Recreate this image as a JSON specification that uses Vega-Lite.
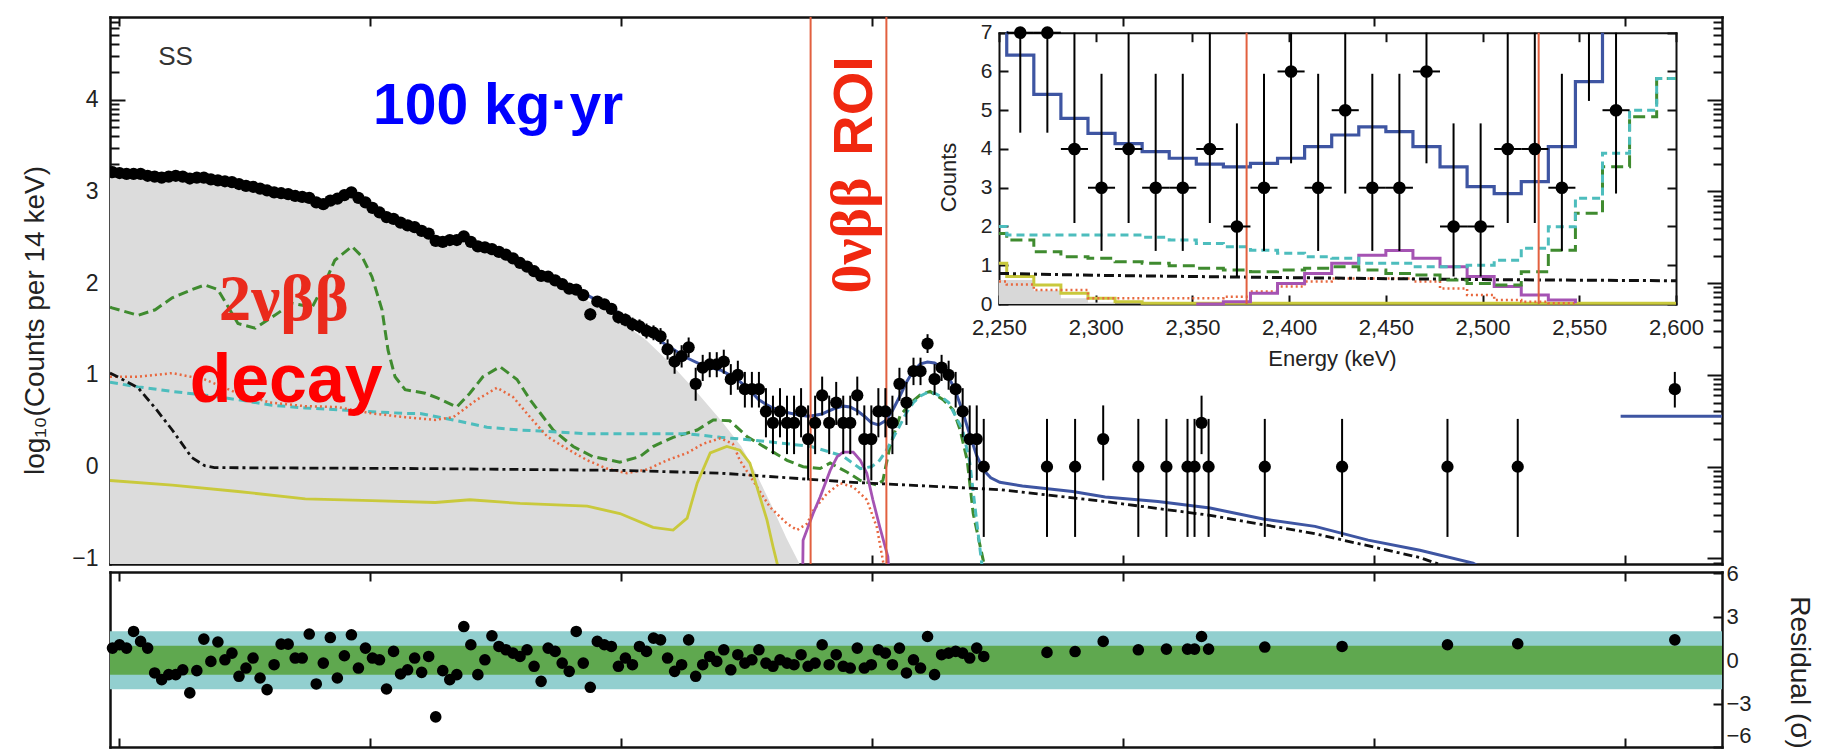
{
"$schema":"https://vega.github.io/schema/vega-lite/v6.json",
"width":1612,"height":547,
"autosize":{"type":"none"},
"padding":{"left":110,"top":17,"right":102,"bottom":192},
"background":"#ffffff",
"config":{"view":{"stroke":null},"font":"Liberation Sans",
 "axis":{"grid":false,"domainColor":"#111","tickColor":"#111","labelColor":"#222","titleColor":"#222","labelFont":"Liberation Sans","titleFont":"Liberation Sans","titleFontWeight":"normal","labelFlush":false,"labelOverlap":false,"domainCap":"square","domainWidth":2.5,"tickWidth":2}},
"datasets":{
"pts":[
{"e":987,"v":3.21,"r":0.84},{"e":1001,"v":3.2,"r":1.07},{"e":1015,"v":3.19,"r":0.84},{"e":1029,"v":3.19,"r":1.99},{"e":1043,"v":3.19,"r":1.3},{"e":1057,"v":3.17,"r":0.84},{"e":1071,"v":3.16,"r":-0.88},{"e":1085,"v":3.15,"r":-1.34},{"e":1099,"v":3.16,"r":-1.0},{"e":1113,"v":3.17,"r":-1.0},{"e":1127,"v":3.16,"r":-0.66},{"e":1141,"v":3.14,"r":-2.26},{"e":1155,"v":3.15,"r":-0.72},{"e":1169,"v":3.15,"r":1.46},{"e":1183,"v":3.13,"r":-0.08},{"e":1197,"v":3.12,"r":1.26},{"e":1211,"v":3.11,"r":0.03},{"e":1225,"v":3.1,"r":0.49},{"e":1239,"v":3.08,"r":-1.11},{"e":1253,"v":3.06,"r":-0.54},{"e":1267,"v":3.05,"r":0.15},{"e":1281,"v":3.03,"r":-1.23},{"e":1295,"v":3.01,"r":-2.03},{"e":1309,"v":2.99,"r":-0.31},{"e":1323,"v":2.98,"r":1.11},{"e":1337,"v":2.97,"r":1.11},{"e":1351,"v":2.95,"r":0.15},{"e":1365,"v":2.94,"r":0.15},{"e":1379,"v":2.93,"r":1.81},{"e":1393,"v":2.88,"r":-1.64},{"e":1407,"v":2.86,"r":-0.2},{"e":1421,"v":2.9,"r":1.57},{"e":1435,"v":2.92,"r":-1.23},{"e":1449,"v":2.96,"r":0.31},{"e":1463,"v":2.99,"r":1.76},{"e":1477,"v":2.93,"r":-0.54},{"e":1491,"v":2.88,"r":0.84},{"e":1505,"v":2.82,"r":0.15},{"e":1519,"v":2.77,"r":0.03},{"e":1533,"v":2.72,"r":-1.99},{"e":1547,"v":2.7,"r":0.61},{"e":1561,"v":2.66,"r":-0.95},{"e":1575,"v":2.63,"r":-0.66},{"e":1589,"v":2.61,"r":0.15},{"e":1603,"v":2.57,"r":-0.84},{"e":1617,"v":2.54,"r":0.26},{"e":1631,"v":2.46,"r":-3.92},{"e":1645,"v":2.45,"r":-0.72},{"e":1659,"v":2.47,"r":-1.34},{"e":1673,"v":2.47,"r":-1.0},{"e":1687,"v":2.51,"r":2.33},{"e":1701,"v":2.45,"r":1.07},{"e":1715,"v":2.4,"r":-1.0},{"e":1729,"v":2.39,"r":0.03},{"e":1743,"v":2.37,"r":1.69},{"e":1757,"v":2.34,"r":0.95},{"e":1771,"v":2.31,"r":0.72},{"e":1785,"v":2.27,"r":0.49},{"e":1799,"v":2.22,"r":0.26},{"e":1813,"v":2.18,"r":0.72},{"e":1827,"v":2.13,"r":-0.42},{"e":1841,"v":2.08,"r":-1.46},{"e":1855,"v":2.07,"r":0.84},{"e":1869,"v":2.03,"r":0.61},{"e":1883,"v":1.99,"r":-0.2},{"e":1897,"v":1.94,"r":-0.77},{"e":1911,"v":1.93,"r":1.99},{"e":1925,"v":1.87,"r":-0.2},
{"e":1939,"v":1.66,"r":-1.87,"lo":1.595,"hi":1.725},{"e":1953,"v":1.8,"r":1.3,"lo":1.745,"hi":1.853},{"e":1967,"v":1.77,"r":1.07,"lo":1.712,"hi":1.828},{"e":1981,"v":1.72,"r":0.95,"lo":1.66,"hi":1.78},{"e":1995,"v":1.63,"r":-0.42,"lo":1.56,"hi":1.7},{"e":2009,"v":1.6,"r":0.15,"lo":1.53,"hi":1.67},{"e":2023,"v":1.55,"r":-0.31,"lo":1.476,"hi":1.625},{"e":2037,"v":1.53,"r":0.95,"lo":1.455,"hi":1.605},{"e":2051,"v":1.48,"r":0.61,"lo":1.397,"hi":1.56},{"e":2065,"v":1.46,"r":1.53,"lo":1.378,"hi":1.54},{"e":2079,"v":1.42,"r":1.41,"lo":1.335,"hi":1.51},{"e":2093,"v":1.279,"r":0.15,"lo":1.167,"hi":1.388},{"e":2107,"v":1.146,"r":-0.77,"lo":1.013,"hi":1.275},{"e":2121,"v":1.204,"r":-0.31,"lo":1.081,"hi":1.324},{"e":2135,"v":1.301,"r":1.41,"lo":1.192,"hi":1.408},{"e":2149,"v":0.903,"r":-1.11,"lo":0.719,"hi":1.078},{"e":2163,"v":1.079,"r":-0.31,"lo":0.934,"hi":1.219},{"e":2177,"v":1.114,"r":0.26,"lo":0.975,"hi":1.248},{"e":2191,"v":1.114,"r":-0.08,"lo":0.975,"hi":1.248},{"e":2205,"v":1.146,"r":0.72,"lo":1.013,"hi":1.275},{"e":2219,"v":0.954,"r":-0.66,"lo":0.783,"hi":1.118},{"e":2233,"v":1.0,"r":0.38,"lo":0.839,"hi":1.155},{"e":2247,"v":0.845,"r":-0.2,"lo":0.645,"hi":1.033},{"e":2261,"v":0.845,"r":0.03,"lo":0.645,"hi":1.033},{"e":2275,"v":0.845,"r":0.72,"lo":0.645,"hi":1.033},{"e":2289,"v":0.602,"r":-0.2,"lo":0.32,"hi":0.856},{"e":2303,"v":0.477,"r":-0.42,"lo":0.137,"hi":0.774},{"e":2317,"v":0.602,"r":0.03,"lo":0.32,"hi":0.856},{"e":2331,"v":0.477,"r":-0.2,"lo":0.137,"hi":0.774},{"e":2345,"v":0.477,"r":-0.31,"lo":0.137,"hi":0.774},{"e":2359,"v":0.602,"r":0.38,"lo":0.32,"hi":0.856},{"e":2373,"v":0.301,"r":-0.42,"lo":-0.149,"hi":0.668},{"e":2387,"v":0.477,"r":-0.2,"lo":0.137,"hi":0.774},{"e":2401,"v":0.778,"r":1.07,"lo":0.56,"hi":0.982},{"e":2415,"v":0.477,"r":-0.31,"lo":0.137,"hi":0.774},{"e":2429,"v":0.699,"r":0.38,"lo":0.455,"hi":0.924},{"e":2443,"v":0.477,"r":-0.42,"lo":0.137,"hi":0.774},{"e":2457,"v":0.477,"r":-0.54,"lo":0.137,"hi":0.774},{"e":2471,"v":0.778,"r":0.84,"lo":0.56,"hi":0.982},{"e":2485,"v":0.301,"r":-0.54,"lo":-0.149,"hi":0.668},{"e":2499,"v":0.301,"r":-0.31,"lo":-0.149,"hi":0.668},{"e":2513,"v":0.602,"r":0.72,"lo":0.32,"hi":0.856},{"e":2527,"v":0.602,"r":0.49,"lo":0.32,"hi":0.856},{"e":2541,"v":0.477,"r":-0.31,"lo":0.137,"hi":0.774},{"e":2555,"v":0.903,"r":0.84,"lo":0.719,"hi":1.078},{"e":2569,"v":0.699,"r":-0.88,"lo":0.455,"hi":0.924},{"e":2583,"v":1.041,"r":0.03,"lo":0.889,"hi":1.188},{"e":2597,"v":1.041,"r":-0.54,"lo":0.889,"hi":1.188},{"e":2611,"v":1.342,"r":1.64,"lo":1.239,"hi":1.444},{"e":2625,"v":0.954,"r":-1.0,"lo":0.783,"hi":1.118},{"e":2639,"v":1.079,"r":0.38,"lo":0.934,"hi":1.219},{"e":2653,"v":1.0,"r":0.49,"lo":0.839,"hi":1.155},{"e":2667,"v":0.845,"r":0.61,"lo":0.645,"hi":1.033},{"e":2681,"v":0.602,"r":0.49,"lo":0.32,"hi":0.856},{"e":2695,"v":0.301,"r":0.15,"lo":-0.149,"hi":0.668},{"e":2709,"v":0.301,"r":0.84,"lo":-0.149,"hi":0.668},{"e":2723,"v":0,"r":0.26,"lo":-0.765,"hi":0.521},
{"e":2849,"v":0,"r":0.54,"lo":-0.765,"hi":0.521},{"e":2905,"v":0,"r":0.6,"lo":-0.765,"hi":0.521},{"e":2961,"v":0.301,"r":1.3,"lo":-0.149,"hi":0.668},{"e":3031,"v":0,"r":0.72,"lo":-0.765,"hi":0.521},{"e":3087,"v":0,"r":0.77,"lo":-0.765,"hi":0.521},{"e":3129,"v":0,"r":0.77,"lo":-0.765,"hi":0.521},{"e":3143,"v":0,"r":0.77,"lo":-0.765,"hi":0.521},{"e":3157,"v":0.477,"r":1.64,"lo":0.137,"hi":0.774},{"e":3171,"v":0,"r":0.77,"lo":-0.765,"hi":0.521},{"e":3283,"v":0,"r":0.91,"lo":-0.765,"hi":0.521},{"e":3437,"v":0,"r":0.95,"lo":-0.765,"hi":0.521},{"e":3647,"v":0,"r":1.07,"lo":-0.765,"hi":0.521},{"e":3787,"v":0,"r":1.14,"lo":-0.765,"hi":0.521},{"e":4100,"v":0.845,"r":1.41,"lo":0.645,"hi":1.033}
],
"curves":[
{"c":"gray","e":982,"v":3.19},{"c":"gray","e":1000,"v":3.18},{"c":"gray","e":1050,"v":3.15},{"c":"gray","e":1100,"v":3.13},{"c":"gray","e":1150,"v":3.12},{"c":"gray","e":1200,"v":3.1},{"c":"gray","e":1250,"v":3.04},{"c":"gray","e":1300,"v":2.98},{"c":"gray","e":1350,"v":2.93},{"c":"gray","e":1400,"v":2.85},{"c":"gray","e":1430,"v":2.89},{"c":"gray","e":1460,"v":2.96},{"c":"gray","e":1490,"v":2.86},{"c":"gray","e":1530,"v":2.7},{"c":"gray","e":1560,"v":2.63},{"c":"gray","e":1600,"v":2.55},{"c":"gray","e":1640,"v":2.43},{"c":"gray","e":1680,"v":2.45},{"c":"gray","e":1720,"v":2.37},{"c":"gray","e":1760,"v":2.3},{"c":"gray","e":1800,"v":2.19},{"c":"gray","e":1850,"v":2.04},{"c":"gray","e":1900,"v":1.91},{"c":"gray","e":1950,"v":1.76},{"c":"gray","e":2000,"v":1.58},{"c":"gray","e":2050,"v":1.38},{"c":"gray","e":2100,"v":1.12},{"c":"gray","e":2150,"v":0.82},{"c":"gray","e":2200,"v":0.5},{"c":"gray","e":2240,"v":0.22},{"c":"gray","e":2270,"v":-0.08},{"c":"gray","e":2300,"v":-0.42},{"c":"gray","e":2330,"v":-0.78},{"c":"gray","e":2356,"v":-1.06},
{"c":"green","e":982,"v":1.74},{"c":"green","e":986,"v":1.73},{"c":"green","e":1038,"v":1.65},{"c":"green","e":1072,"v":1.71},{"c":"green","e":1106,"v":1.84},{"c":"green","e":1145,"v":1.93},{"c":"green","e":1171,"v":1.98},{"c":"green","e":1197,"v":1.93},{"c":"green","e":1237,"v":1.56},{"c":"green","e":1271,"v":1.51},{"c":"green","e":1305,"v":1.63},{"c":"green","e":1345,"v":1.78},{"c":"green","e":1385,"v":1.74},{"c":"green","e":1410,"v":2.0},{"c":"green","e":1430,"v":2.25},{"c":"green","e":1464,"v":2.4},{"c":"green","e":1484,"v":2.29},{"c":"green","e":1504,"v":2.07},{"c":"green","e":1524,"v":1.71},{"c":"green","e":1536,"v":1.27},{"c":"green","e":1550,"v":0.98},{"c":"green","e":1570,"v":0.84},{"c":"green","e":1610,"v":0.8},{"c":"green","e":1634,"v":0.75},{"c":"green","e":1673,"v":0.65},{"c":"green","e":1699,"v":0.8},{"c":"green","e":1725,"v":0.98},{"c":"green","e":1759,"v":1.09},{"c":"green","e":1793,"v":0.95},{"c":"green","e":1819,"v":0.73},{"c":"green","e":1865,"v":0.4},{"c":"green","e":1905,"v":0.22},{"c":"green","e":1944,"v":0.11},{"c":"green","e":1998,"v":0.05},{"c":"green","e":2038,"v":0.11},{"c":"green","e":2064,"v":0.22},{"c":"green","e":2104,"v":0.32},{"c":"green","e":2152,"v":0.4},{"c":"green","e":2184,"v":0.51},{"c":"green","e":2217,"v":0.5},{"c":"green","e":2251,"v":0.33},{"c":"green","e":2297,"v":0.18},{"c":"green","e":2331,"v":0.07},{"c":"green","e":2363,"v":0.0},{"c":"green","e":2397,"v":-0.02},{"c":"green","e":2417,"v":0.04},{"c":"green","e":2451,"v":-0.06},{"c":"green","e":2477,"v":-0.15},{"c":"green","e":2510,"v":-0.2},{"c":"green","e":2522,"v":-0.15},{"c":"green","e":2536,"v":0.22},{"c":"green","e":2556,"v":0.55},{"c":"green","e":2576,"v":0.69},{"c":"green","e":2596,"v":0.78},{"c":"green","e":2616,"v":0.82},{"c":"green","e":2642,"v":0.73},{"c":"green","e":2662,"v":0.62},{"c":"green","e":2676,"v":0.4},{"c":"green","e":2690,"v":0.07},{"c":"green","e":2702,"v":-0.51},{"c":"green","e":2716,"v":-0.87},{"c":"green","e":2722,"v":-1.02},{"c":"green","e":2728,"v":-1.3},
{"c":"cyan","e":982,"v":0.92},{"c":"cyan","e":1038,"v":0.87},{"c":"cyan","e":1106,"v":0.82},{"c":"cyan","e":1171,"v":0.78},{"c":"cyan","e":1237,"v":0.73},{"c":"cyan","e":1305,"v":0.67},{"c":"cyan","e":1371,"v":0.64},{"c":"cyan","e":1436,"v":0.62},{"c":"cyan","e":1504,"v":0.6},{"c":"cyan","e":1570,"v":0.58},{"c":"cyan","e":1600,"v":0.58},{"c":"cyan","e":1666,"v":0.51},{"c":"cyan","e":1733,"v":0.43},{"c":"cyan","e":1799,"v":0.4},{"c":"cyan","e":1865,"v":0.38},{"c":"cyan","e":1933,"v":0.36},{"c":"cyan","e":1998,"v":0.36},{"c":"cyan","e":2064,"v":0.36},{"c":"cyan","e":2132,"v":0.36},{"c":"cyan","e":2198,"v":0.32},{"c":"cyan","e":2263,"v":0.29},{"c":"cyan","e":2331,"v":0.25},{"c":"cyan","e":2379,"v":0.22},{"c":"cyan","e":2441,"v":0.12},{"c":"cyan","e":2477,"v":-0.02},{"c":"cyan","e":2499,"v":0.0},{"c":"cyan","e":2513,"v":0.05},{"c":"cyan","e":2527,"v":0.16},{"c":"cyan","e":2541,"v":0.3},{"c":"cyan","e":2555,"v":0.44},{"c":"cyan","e":2569,"v":0.59},{"c":"cyan","e":2583,"v":0.7},{"c":"cyan","e":2597,"v":0.77},{"c":"cyan","e":2611,"v":0.81},{"c":"cyan","e":2625,"v":0.8},{"c":"cyan","e":2639,"v":0.76},{"c":"cyan","e":2653,"v":0.7},{"c":"cyan","e":2667,"v":0.55},{"c":"cyan","e":2681,"v":0.4},{"c":"cyan","e":2695,"v":0.05},{"c":"cyan","e":2709,"v":-0.6},{"c":"cyan","e":2720,"v":-1.1},{"c":"cyan","e":2724,"v":-1.3},
{"c":"red","e":982,"v":0.98},{"c":"red","e":1038,"v":0.98},{"c":"red","e":1106,"v":1.02},{"c":"red","e":1171,"v":0.95},{"c":"red","e":1237,"v":0.8},{"c":"red","e":1300,"v":0.7},{"c":"red","e":1370,"v":0.66},{"c":"red","e":1436,"v":0.65},{"c":"red","e":1504,"v":0.58},{"c":"red","e":1570,"v":0.54},{"c":"red","e":1630,"v":0.51},{"c":"red","e":1666,"v":0.54},{"c":"red","e":1713,"v":0.73},{"c":"red","e":1753,"v":0.86},{"c":"red","e":1785,"v":0.76},{"c":"red","e":1819,"v":0.54},{"c":"red","e":1853,"v":0.33},{"c":"red","e":1885,"v":0.22},{"c":"red","e":1933,"v":0.07},{"c":"red","e":1972,"v":-0.02},{"c":"red","e":2012,"v":-0.07},{"c":"red","e":2052,"v":-0.03},{"c":"red","e":2092,"v":0.07},{"c":"red","e":2132,"v":0.15},{"c":"red","e":2164,"v":0.25},{"c":"red","e":2198,"v":0.31},{"c":"red","e":2223,"v":0.25},{"c":"red","e":2237,"v":0.07},{"c":"red","e":2263,"v":-0.15},{"c":"red","e":2297,"v":-0.44},{"c":"red","e":2331,"v":-0.62},{"c":"red","e":2351,"v":-0.69},{"c":"red","e":2371,"v":-0.62},{"c":"red","e":2383,"v":-0.48},{"c":"red","e":2411,"v":-0.29},{"c":"red","e":2437,"v":-0.18},{"c":"red","e":2463,"v":-0.22},{"c":"red","e":2490,"v":-0.36},{"c":"red","e":2510,"v":-0.66},{"c":"red","e":2522,"v":-1.02},{"c":"red","e":2530,"v":-1.3},
{"c":"dd","e":982,"v":1.02},{"c":"dd","e":990,"v":1.0},{"c":"dd","e":1038,"v":0.86},{"c":"dd","e":1072,"v":0.64},{"c":"dd","e":1106,"v":0.4},{"c":"dd","e":1145,"v":0.1},{"c":"dd","e":1171,"v":0.01},{"c":"dd","e":1190,"v":-0.01},{"c":"dd","e":1600,"v":-0.02},{"c":"dd","e":2000,"v":-0.04},{"c":"dd","e":2198,"v":-0.07},{"c":"dd","e":2463,"v":-0.17},{"c":"dd","e":2755,"v":-0.25},{"c":"dd","e":2965,"v":-0.38},{"c":"dd","e":3174,"v":-0.53},{"c":"dd","e":3383,"v":-0.73},{"c":"dd","e":3592,"v":-0.99},{"c":"dd","e":3650,"v":-1.1},
{"c":"yellow","e":982,"v":-0.15},{"c":"yellow","e":1106,"v":-0.2},{"c":"yellow","e":1237,"v":-0.27},{"c":"yellow","e":1371,"v":-0.35},{"c":"yellow","e":1504,"v":-0.37},{"c":"yellow","e":1630,"v":-0.39},{"c":"yellow","e":1699,"v":-0.36},{"c":"yellow","e":1799,"v":-0.4},{"c":"yellow","e":1933,"v":-0.43},{"c":"yellow","e":1998,"v":-0.51},{"c":"yellow","e":2064,"v":-0.66},{"c":"yellow","e":2104,"v":-0.69},{"c":"yellow","e":2132,"v":-0.56},{"c":"yellow","e":2152,"v":-0.18},{"c":"yellow","e":2178,"v":0.15},{"c":"yellow","e":2211,"v":0.22},{"c":"yellow","e":2237,"v":0.18},{"c":"yellow","e":2257,"v":0.04},{"c":"yellow","e":2271,"v":-0.22},{"c":"yellow","e":2291,"v":-0.58},{"c":"yellow","e":2303,"v":-0.87},{"c":"yellow","e":2313,"v":-1.09},{"c":"yellow","e":2318,"v":-1.2},
{"c":"mag","e":2362,"v":-1.3},{"c":"mag","e":2363,"v":-0.8},{"c":"mag","e":2383,"v":-0.51},{"c":"mag","e":2397,"v":-0.33},{"c":"mag","e":2417,"v":-0.04},{"c":"mag","e":2431,"v":0.11},{"c":"mag","e":2443,"v":0.16},{"c":"mag","e":2463,"v":0.16},{"c":"mag","e":2477,"v":0.07},{"c":"mag","e":2490,"v":-0.07},{"c":"mag","e":2502,"v":-0.36},{"c":"mag","e":2516,"v":-0.66},{"c":"mag","e":2532,"v":-0.98},{"c":"mag","e":2536,"v":-1.3},
{"c":"blue","e":1800,"v":2.22},{"c":"blue","e":1850,"v":2.08},{"c":"blue","e":1900,"v":1.96},{"c":"blue","e":1950,"v":1.82},{"c":"blue","e":2000,"v":1.66},{"c":"blue","e":2050,"v":1.47},{"c":"blue","e":2090,"v":1.33},{"c":"blue","e":2130,"v":1.19},{"c":"blue","e":2165,"v":1.1},{"c":"blue","e":2200,"v":1.05},{"c":"blue","e":2230,"v":0.96},{"c":"blue","e":2247,"v":0.88},{"c":"blue","e":2261,"v":0.81},{"c":"blue","e":2275,"v":0.73},{"c":"blue","e":2289,"v":0.68},{"c":"blue","e":2303,"v":0.64},{"c":"blue","e":2317,"v":0.62},{"c":"blue","e":2331,"v":0.59},{"c":"blue","e":2345,"v":0.575},{"c":"blue","e":2359,"v":0.56},{"c":"blue","e":2373,"v":0.55},{"c":"blue","e":2387,"v":0.56},{"c":"blue","e":2401,"v":0.575},{"c":"blue","e":2415,"v":0.61},{"c":"blue","e":2429,"v":0.64},{"c":"blue","e":2443,"v":0.66},{"c":"blue","e":2457,"v":0.65},{"c":"blue","e":2471,"v":0.61},{"c":"blue","e":2485,"v":0.55},{"c":"blue","e":2499,"v":0.48},{"c":"blue","e":2513,"v":0.455},{"c":"blue","e":2527,"v":0.5},{"c":"blue","e":2541,"v":0.61},{"c":"blue","e":2555,"v":0.76},{"c":"blue","e":2569,"v":0.92},{"c":"blue","e":2583,"v":1.05},{"c":"blue","e":2597,"v":1.12},{"c":"blue","e":2611,"v":1.14},{"c":"blue","e":2625,"v":1.13},{"c":"blue","e":2639,"v":1.08},{"c":"blue","e":2653,"v":0.98},{"c":"blue","e":2667,"v":0.82},{"c":"blue","e":2681,"v":0.6},{"c":"blue","e":2695,"v":0.35},{"c":"blue","e":2709,"v":0.12},{"c":"blue","e":2723,"v":-0.04},{"c":"blue","e":2737,"v":-0.12},{"c":"blue","e":2755,"v":-0.17},{"c":"blue","e":2800,"v":-0.21},{"c":"blue","e":2900,"v":-0.27},{"c":"blue","e":2965,"v":-0.33},{"c":"blue","e":3070,"v":-0.38},{"c":"blue","e":3174,"v":-0.45},{"c":"blue","e":3280,"v":-0.57},{"c":"blue","e":3383,"v":-0.65},{"c":"blue","e":3489,"v":-0.8},{"c":"blue","e":3592,"v":-0.91},{"c":"blue","e":3698,"v":-1.05},{"c":"blue","e":3720,"v":-1.12},
{"c":"blue2","e":3992,"v":0.55},{"c":"blue2","e":4194,"v":0.55}
],
"inset":[
{"c":"gray","e":2250,"v":0.62},{"c":"gray","e":2268,"v":0.35},{"c":"gray","e":2282,"v":0.15},{"c":"gray","e":2296,"v":0.04},{"c":"gray","e":2310,"v":0},
{"c":"yellow","e":2250,"v":1.05},{"c":"yellow","e":2254,"v":0.71},{"c":"yellow","e":2268,"v":0.49},{"c":"yellow","e":2282,"v":0.28},{"c":"yellow","e":2296,"v":0.15},{"c":"yellow","e":2310,"v":0.06},{"c":"yellow","e":2324,"v":0.02},{"c":"yellow","e":2600,"v":0.02},
{"c":"red","e":2250,"v":0.58},{"c":"red","e":2254,"v":0.5},{"c":"red","e":2268,"v":0.36},{"c":"red","e":2296,"v":0.15},{"c":"red","e":2366,"v":0.19},{"c":"red","e":2380,"v":0.32},{"c":"red","e":2394,"v":0.45},{"c":"red","e":2408,"v":0.58},{"c":"red","e":2422,"v":0.66},{"c":"red","e":2464,"v":0.58},{"c":"red","e":2478,"v":0.4},{"c":"red","e":2492,"v":0.23},{"c":"red","e":2506,"v":0.1},{"c":"red","e":2520,"v":0.06},{"c":"red","e":2534,"v":0.02},{"c":"red","e":2548,"v":0.02},
{"c":"mag","e":2352,"v":0.0},{"c":"mag","e":2366,"v":0.06},{"c":"mag","e":2380,"v":0.28},{"c":"mag","e":2394,"v":0.53},{"c":"mag","e":2408,"v":0.79},{"c":"mag","e":2422,"v":1.05},{"c":"mag","e":2436,"v":1.26},{"c":"mag","e":2450,"v":1.38},{"c":"mag","e":2464,"v":1.18},{"c":"mag","e":2478,"v":0.96},{"c":"mag","e":2492,"v":0.71},{"c":"mag","e":2506,"v":0.45},{"c":"mag","e":2520,"v":0.23},{"c":"mag","e":2534,"v":0.1},{"c":"mag","e":2548,"v":0.02},
{"c":"dd","e":2250,"v":0.79},{"c":"dd","e":2300,"v":0.74},{"c":"dd","e":2400,"v":0.68},{"c":"dd","e":2500,"v":0.63},{"c":"dd","e":2600,"v":0.6},
{"c":"green","e":2250,"v":1.82},{"c":"green","e":2254,"v":1.65},{"c":"green","e":2268,"v":1.35},{"c":"green","e":2282,"v":1.22},{"c":"green","e":2296,"v":1.18},{"c":"green","e":2310,"v":1.09},{"c":"green","e":2324,"v":1.05},{"c":"green","e":2338,"v":0.99},{"c":"green","e":2352,"v":0.92},{"c":"green","e":2366,"v":0.88},{"c":"green","e":2380,"v":0.83},{"c":"green","e":2394,"v":0.88},{"c":"green","e":2408,"v":0.92},{"c":"green","e":2422,"v":0.96},{"c":"green","e":2436,"v":0.88},{"c":"green","e":2450,"v":0.79},{"c":"green","e":2464,"v":0.75},{"c":"green","e":2478,"v":0.62},{"c":"green","e":2492,"v":0.53},{"c":"green","e":2506,"v":0.49},{"c":"green","e":2520,"v":0.83},{"c":"green","e":2534,"v":1.39},{"c":"green","e":2548,"v":2.34},{"c":"green","e":2562,"v":3.54},{"c":"green","e":2576,"v":4.83},{"c":"green","e":2590,"v":5.82},{"c":"green","e":2600,"v":5.82},
{"c":"cyan","e":2250,"v":2.0},{"c":"cyan","e":2254,"v":1.78},{"c":"cyan","e":2324,"v":1.72},{"c":"cyan","e":2338,"v":1.65},{"c":"cyan","e":2352,"v":1.56},{"c":"cyan","e":2366,"v":1.48},{"c":"cyan","e":2380,"v":1.39},{"c":"cyan","e":2394,"v":1.31},{"c":"cyan","e":2408,"v":1.22},{"c":"cyan","e":2422,"v":1.18},{"c":"cyan","e":2436,"v":1.05},{"c":"cyan","e":2464,"v":0.96},{"c":"cyan","e":2492,"v":1.0},{"c":"cyan","e":2506,"v":1.13},{"c":"cyan","e":2520,"v":1.44},{"c":"cyan","e":2534,"v":1.99},{"c":"cyan","e":2548,"v":2.73},{"c":"cyan","e":2562,"v":3.89},{"c":"cyan","e":2576,"v":5.0},{"c":"cyan","e":2590,"v":5.82},{"c":"cyan","e":2600,"v":5.82},
{"c":"blue","e":2253.9,"v":7},{"c":"blue","e":2254,"v":6.42},{"c":"blue","e":2268,"v":5.41},{"c":"blue","e":2282,"v":4.79},{"c":"blue","e":2296,"v":4.4},{"c":"blue","e":2310,"v":4.14},{"c":"blue","e":2324,"v":3.93},{"c":"blue","e":2338,"v":3.76},{"c":"blue","e":2352,"v":3.61},{"c":"blue","e":2366,"v":3.54},{"c":"blue","e":2380,"v":3.63},{"c":"blue","e":2394,"v":3.76},{"c":"blue","e":2408,"v":4.06},{"c":"blue","e":2422,"v":4.36},{"c":"blue","e":2436,"v":4.57},{"c":"blue","e":2450,"v":4.45},{"c":"blue","e":2464,"v":4.06},{"c":"blue","e":2478,"v":3.54},{"c":"blue","e":2492,"v":3.03},{"c":"blue","e":2506,"v":2.85},{"c":"blue","e":2520,"v":3.16},{"c":"blue","e":2534,"v":4.06},{"c":"blue","e":2548,"v":5.74},{"c":"blue","e":2562,"v":7}
],
"ipts":[
{"e":2261,"n":7,"lo":4.42,"hi":7,"el":2254,"eh":2268},{"e":2275,"n":7,"lo":4.42,"hi":7,"el":2268,"eh":2282},{"e":2289,"n":4,"lo":2.09,"hi":7,"el":2282,"eh":2296},{"e":2303,"n":3,"lo":1.37,"hi":5.94,"el":2296,"eh":2310},{"e":2317,"n":4,"lo":2.09,"hi":7,"el":2310,"eh":2324},{"e":2331,"n":3,"lo":1.37,"hi":5.94,"el":2324,"eh":2338},{"e":2345,"n":3,"lo":1.37,"hi":5.94,"el":2338,"eh":2352},{"e":2359,"n":4,"lo":2.09,"hi":7,"el":2352,"eh":2366},{"e":2373,"n":2,"lo":0.71,"hi":4.66,"el":2366,"eh":2380},{"e":2387,"n":3,"lo":1.37,"hi":5.94,"el":2380,"eh":2394},{"e":2401,"n":6,"lo":3.63,"hi":7,"el":2394,"eh":2408},{"e":2415,"n":3,"lo":1.37,"hi":5.94,"el":2408,"eh":2422},{"e":2429,"n":5,"lo":2.85,"hi":7,"el":2422,"eh":2436},{"e":2443,"n":3,"lo":1.37,"hi":5.94,"el":2436,"eh":2450},{"e":2457,"n":3,"lo":1.37,"hi":5.94,"el":2450,"eh":2464},{"e":2471,"n":6,"lo":3.63,"hi":7,"el":2464,"eh":2478},{"e":2485,"n":2,"lo":0.71,"hi":4.66,"el":2478,"eh":2492},{"e":2499,"n":2,"lo":0.71,"hi":4.66,"el":2492,"eh":2506},{"e":2513,"n":4,"lo":2.09,"hi":7,"el":2506,"eh":2520},{"e":2527,"n":4,"lo":2.09,"hi":7,"el":2520,"eh":2534},{"e":2541,"n":3,"lo":1.37,"hi":5.94,"el":2534,"eh":2548},{"e":2555,"n":8,"lo":5.24,"hi":7,"el":2548,"eh":2562},{"e":2569,"n":5,"lo":2.85,"hi":7,"el":2562,"eh":2576}
],
"roi":[{"e":2378},{"e":2529}],
"bands":[{"band":"2s","lo":-2,"hi":2},{"band":"1s","lo":-1,"hi":1}]
},
"resolve":{"scale":{"x":"independent","y":"independent"},"axis":{"x":"independent","y":"independent"}},
"layer":[
{
"resolve":{"axis":{"x":"independent","y":"independent"}},
"layer":[
{"data":{"name":"curves"},"transform":[{"filter":"datum.c=='gray'"}],
 "mark":{"type":"area","color":"#dcdcdc","clip":true},
 "encoding":{
  "x":{"field":"e","type":"quantitative","scale":{"domain":[982,4194],"nice":false,"zero":false},"axis":{"orient":"bottom","values":[1000,1500,2000,2500,3000,3500,4000],"labels":false,"tickSize":-9,"title":null}},
  "y":{"field":"v","type":"quantitative","scale":{"domain":[-1.06,4.9],"nice":false,"zero":false},"axis":{"orient":"left","values":[-1,0,1,2,3,4],"tickSize":-15,"labelFontSize":23,"labelPadding":27,"title":"log₁₀(Counts per 14 keV)","titleFontSize":28,"titleAngle":-90,"titleX":-75,"titleY":303,"titleAlign":"center","titleBaseline":"middle"}},
  "y2":{"datum":-1.06}}},
{"data":{"name":"curves"},"transform":[{"filter":"datum.c=='green'"}],
 "mark":{"type":"line","color":"#3f8b2f","strokeWidth":3,"strokeDash":[10,5],"clip":true},
 "encoding":{
  "x":{"field":"e","type":"quantitative","scale":{"domain":[982,4194],"nice":false,"zero":false},"axis":{"orient":"top","values":[1000,1500,2000,2500,3000,3500,4000],"labels":false,"tickSize":-9,"title":null}},
  "y":{"field":"v","type":"quantitative","scale":{"domain":[-1.06,4.9],"nice":false,"zero":false},"axis":{"orient":"right","values":[-1,0,1,2,3,4],"tickSize":-15,"labels":false,"title":null}}}},
{"data":{"name":"curves"},"transform":[{"filter":"datum.c=='cyan'"}],
 "mark":{"type":"line","color":"#4dbdbd","strokeWidth":3,"strokeDash":[8,5],"clip":true},
 "encoding":{
  "x":{"field":"e","type":"quantitative","scale":{"domain":[982,4194],"nice":false,"zero":false},"axis":null},
  "y":{"field":"v","type":"quantitative","scale":{"domain":[-1.06,4.9],"nice":false,"zero":false},"axis":{"orient":"left","values":[-1.046,-0.699,-0.523,-0.398,-0.301,-0.222,-0.155,-0.097,-0.046,0.301,0.477,0.602,0.699,0.778,0.845,0.903,0.954,1.301,1.477,1.602,1.699,1.778,1.845,1.903,1.954,2.301,2.477,2.602,2.699,2.778,2.845,2.903,2.954,3.301,3.477,3.602,3.699,3.778,3.845,3.903,3.954,4.301,4.477,4.602,4.699,4.778,4.845],"tickSize":-9,"labels":false,"domain":false,"title":null}}}},
{"data":{"name":"curves"},"transform":[{"filter":"datum.c=='red'"}],
 "mark":{"type":"line","color":"#e8683f","strokeWidth":2.5,"strokeDash":[2,3],"clip":true},
 "encoding":{
  "x":{"field":"e","type":"quantitative","scale":{"domain":[982,4194],"nice":false,"zero":false},"axis":null},
  "y":{"field":"v","type":"quantitative","scale":{"domain":[-1.06,4.9],"nice":false,"zero":false},"axis":{"orient":"right","values":[-1.046,-0.699,-0.523,-0.398,-0.301,-0.222,-0.155,-0.097,-0.046,0.301,0.477,0.602,0.699,0.778,0.845,0.903,0.954,1.301,1.477,1.602,1.699,1.778,1.845,1.903,1.954,2.301,2.477,2.602,2.699,2.778,2.845,2.903,2.954,3.301,3.477,3.602,3.699,3.778,3.845,3.903,3.954,4.301,4.477,4.602,4.699,4.778,4.845],"tickSize":-9,"labels":false,"domain":false,"title":null}}}},
{"data":{"name":"curves"},"transform":[{"filter":"datum.c=='dd'"}],
 "mark":{"type":"line","color":"#111111","strokeWidth":2.8,"strokeDash":[9,4,3,4],"clip":true},
 "encoding":{"x":{"field":"e","type":"quantitative","axis":null},"y":{"field":"v","type":"quantitative","axis":null}}},
{"data":{"name":"curves"},"transform":[{"filter":"datum.c=='yellow'"}],
 "mark":{"type":"line","color":"#c9c93c","strokeWidth":2.8,"clip":true},
 "encoding":{"x":{"field":"e","type":"quantitative","axis":null},"y":{"field":"v","type":"quantitative","axis":null}}},
{"data":{"name":"curves"},"transform":[{"filter":"datum.c=='mag'"}],
 "mark":{"type":"line","color":"#a553b3","strokeWidth":2.8,"clip":true},
 "encoding":{"x":{"field":"e","type":"quantitative","axis":null},"y":{"field":"v","type":"quantitative","axis":null}}},
{"data":{"name":"curves"},"transform":[{"filter":"datum.c=='blue' || datum.c=='blue2'"}],
 "mark":{"type":"line","color":"#3e55a2","strokeWidth":3,"clip":true},
 "encoding":{"x":{"field":"e","type":"quantitative","axis":null},"y":{"field":"v","type":"quantitative","axis":null},"detail":{"field":"c"}}},
{"data":{"name":"roi"},
 "mark":{"type":"rule","color":"#e2603f","strokeWidth":2},
 "encoding":{"x":{"field":"e","type":"quantitative","axis":null}}},
{"data":{"name":"pts"},"transform":[{"filter":"isValid(datum.lo)"}],
 "mark":{"type":"rule","color":"#000000","strokeWidth":2,"clip":true},
 "encoding":{"x":{"field":"e","type":"quantitative","axis":null},"y":{"field":"lo","type":"quantitative","axis":null},"y2":{"field":"hi"}}},
{"data":{"name":"pts"},
 "mark":{"type":"circle","color":"#000000","size":150,"opacity":1,"clip":true},
 "encoding":{"x":{"field":"e","type":"quantitative","axis":null},"y":{"field":"v","type":"quantitative","axis":null}}},
{"data":{"values":[{"t":"SS","e":1078,"v":4.38}]},
 "mark":{"type":"text","fontSize":26,"color":"#333333","align":"left","baseline":"alphabetic","font":"Liberation Sans"},
 "encoding":{"x":{"field":"e","type":"quantitative","axis":null},"y":{"field":"v","type":"quantitative","axis":null},"text":{"field":"t"}}},
{"data":{"values":[{"t":"100 kg·yr","e":1506,"v":3.737}]},
 "mark":{"type":"text","fontSize":57,"fontWeight":"bold","color":"#0000ff","align":"left","baseline":"alphabetic","font":"Liberation Sans"},
 "encoding":{"x":{"field":"e","type":"quantitative","axis":null},"y":{"field":"v","type":"quantitative","axis":null},"text":{"field":"t"}}},
{"data":{"values":[{"t":"2νββ","e":1328,"v":1.6}]},
 "mark":{"type":"text","fontSize":65,"fontWeight":"bold","color":"#ea2a1c","align":"center","baseline":"alphabetic","font":"Liberation Serif"},
 "encoding":{"x":{"field":"e","type":"quantitative","axis":null},"y":{"field":"v","type":"quantitative","axis":null},"text":{"field":"t"}}},
{"data":{"values":[{"t":"decay","e":1333,"v":0.705}]},
 "mark":{"type":"text","fontSize":68,"fontWeight":"bold","color":"#ff0000","align":"center","baseline":"alphabetic","font":"Liberation Sans"},
 "encoding":{"x":{"field":"e","type":"quantitative","axis":null},"y":{"field":"v","type":"quantitative","axis":null},"text":{"field":"t"}}},
{"data":{"values":[{"t":"ROI","e":2500,"v":3.93}]},
 "mark":{"type":"text","fontSize":56,"fontWeight":"bold","color":"#f02810","align":"center","baseline":"alphabetic","angle":270,"font":"Liberation Sans"},
 "encoding":{"x":{"field":"e","type":"quantitative","axis":null},"y":{"field":"v","type":"quantitative","axis":null},"text":{"field":"t"}}},
{"data":{"values":[{"t":"0νββ","e":2496,"v":2.52}]},
 "mark":{"type":"text","fontSize":58,"fontWeight":"bold","color":"#f02810","align":"center","baseline":"alphabetic","angle":270,"font":"Liberation Serif"},
 "encoding":{"x":{"field":"e","type":"quantitative","axis":null},"y":{"field":"v","type":"quantitative","axis":null},"text":{"field":"t"}}}
]},
{
"resolve":{"axis":{"x":"independent","y":"independent"}},
"layer":[
{"data":{"name":"inset"},"transform":[{"filter":"datum.c=='gray'"}],
 "mark":{"type":"area","interpolate":"step-after","color":"#d8d8d8"},
 "encoding":{
  "x":{"field":"e","type":"quantitative","scale":{"domain":[2250,2600],"range":[889,1566],"nice":false,"zero":false},"axis":{"orient":"bottom","offset":-260,"values":[2250,2300,2350,2400,2450,2500,2550,2600],"format":",d","tickSize":-9,"labelFontSize":22,"labelPadding":22,"title":"Energy (keV)","titleFontSize":22,"titleX":1222,"titleY":54,"titleAlign":"center","titleBaseline":"middle","domainWidth":2}},
  "y":{"field":"v","type":"quantitative","scale":{"domain":[0,7],"range":[287,15.7],"nice":false,"zero":false},"axis":{"orient":"left","offset":-889,"values":[0,1,2,3,4,5,6,7],"tickSize":-9,"labelFontSize":21,"labelPadding":16,"title":"Counts","titleFontSize":22,"titleAngle":-90,"titleX":-51,"titleY":160,"titleAlign":"center","titleBaseline":"middle","domainWidth":2}},
  "y2":{"datum":0}}},
{"data":{"name":"inset"},"transform":[{"filter":"datum.c=='yellow'"}],
 "mark":{"type":"line","interpolate":"step-after","color":"#c9c93c","strokeWidth":3},
 "encoding":{"x":{"field":"e","type":"quantitative","axis":null},"y":{"field":"v","type":"quantitative","axis":null}}},
{"data":{"name":"inset"},"transform":[{"filter":"datum.c=='red'"}],
 "mark":{"type":"line","interpolate":"step-after","color":"#e8683f","strokeWidth":2.5,"strokeDash":[2,3]},
 "encoding":{"x":{"field":"e","type":"quantitative","axis":null},"y":{"field":"v","type":"quantitative","axis":null}}},
{"data":{"name":"inset"},"transform":[{"filter":"datum.c=='mag'"}],
 "mark":{"type":"line","interpolate":"step-after","color":"#a553b3","strokeWidth":3},
 "encoding":{"x":{"field":"e","type":"quantitative","axis":null},"y":{"field":"v","type":"quantitative","axis":null}}},
{"data":{"name":"inset"},"transform":[{"filter":"datum.c=='dd'"}],
 "mark":{"type":"line","color":"#111111","strokeWidth":3,"strokeDash":[10,4,3,4]},
 "encoding":{"x":{"field":"e","type":"quantitative","axis":null},"y":{"field":"v","type":"quantitative","axis":null}}},
{"data":{"name":"inset"},"transform":[{"filter":"datum.c=='green'"}],
 "mark":{"type":"line","interpolate":"step-after","color":"#3f8b2f","strokeWidth":3,"strokeDash":[12,6]},
 "encoding":{"x":{"field":"e","type":"quantitative","axis":null},"y":{"field":"v","type":"quantitative","axis":null}}},
{"data":{"name":"inset"},"transform":[{"filter":"datum.c=='cyan'"}],
 "mark":{"type":"line","interpolate":"step-after","color":"#4dbdbd","strokeWidth":3,"strokeDash":[8,5]},
 "encoding":{"x":{"field":"e","type":"quantitative","axis":null},"y":{"field":"v","type":"quantitative","axis":null}}},
{"data":{"name":"inset"},"transform":[{"filter":"datum.c=='blue'"}],
 "mark":{"type":"line","interpolate":"step-after","color":"#3e55a2","strokeWidth":3.2},
 "encoding":{
  "x":{"field":"e","type":"quantitative","axis":{"orient":"top","offset":-15.7,"values":[2250,2300,2350,2400,2450,2500,2550,2600],"tickSize":-9,"labels":false,"title":null,"domainWidth":2}},
  "y":{"field":"v","type":"quantitative","axis":{"orient":"right","offset":-46,"values":[0,1,2,3,4,5,6,7],"tickSize":-9,"labels":false,"title":null,"domainWidth":2}}}},
{"data":{"name":"roi"},
 "mark":{"type":"rule","color":"#e2603f","strokeWidth":2},
 "encoding":{"x":{"field":"e","type":"quantitative","axis":null},"y":{"datum":0,"type":"quantitative","axis":null},"y2":{"datum":7}}},
{"data":{"name":"ipts"},
 "mark":{"type":"rule","color":"#000000","strokeWidth":2},
 "encoding":{"x":{"field":"e","type":"quantitative","axis":null},"y":{"field":"lo","type":"quantitative","axis":null},"y2":{"field":"hi"}}},
{"data":{"name":"ipts"},"transform":[{"filter":"datum.n <= 7"}],
 "mark":{"type":"rule","color":"#000000","strokeWidth":2},
 "encoding":{"x":{"field":"el","type":"quantitative","axis":null},"x2":{"field":"eh"},"y":{"field":"n","type":"quantitative","axis":null}}},
{"data":{"name":"ipts"},"transform":[{"filter":"datum.n <= 7"}],
 "mark":{"type":"circle","color":"#000000","size":160,"opacity":1},
 "encoding":{"x":{"field":"e","type":"quantitative","axis":null},"y":{"field":"n","type":"quantitative","axis":null}}}
]},
{
"resolve":{"axis":{"x":"independent","y":"independent"}},
"layer":[
{"data":{"name":"bands"},"transform":[{"filter":"datum.band=='2s'"}],
 "mark":{"type":"rect","color":"#92cfcf"},
 "encoding":{
  "x":{"datum":982,"type":"quantitative","scale":{"domain":[982,4194],"nice":false,"zero":false},"axis":{"orient":"top","offset":-555,"values":[1000,1500,2000,2500,3000,3500,4000],"labels":false,"tickSize":-9,"title":null}},
  "x2":{"datum":4194},
  "y":{"field":"lo","type":"quantitative","scale":{"domain":[-6,6.1],"range":[730,555],"nice":false,"zero":false},"axis":{"orient":"right","values":[-6,-3,0,3,6],"tickSize":-9,"labelFontSize":22,"labelPadding":13,"labelBaseline":{"condition":{"test":"datum.value == -6","value":"bottom"},"value":"middle"},"title":"Residual (σ)","titleFontSize":28,"titleAngle":90,"titleX":76,"titleY":655,"titleAlign":"center","titleBaseline":"middle"}},
  "y2":{"field":"hi"}}},
{"data":{"name":"bands"},"transform":[{"filter":"datum.band=='1s'"}],
 "mark":{"type":"rect","color":"#5fa84f"},
 "encoding":{
  "x":{"datum":982,"type":"quantitative","axis":null},
  "x2":{"datum":4194},
  "y":{"field":"lo","type":"quantitative","axis":{"orient":"left","ticks":false,"labels":false,"title":null}},
  "y2":{"field":"hi"}}},
{"data":{"name":"pts"},
 "mark":{"type":"circle","color":"#000000","size":135,"opacity":1},
 "encoding":{
  "x":{"field":"e","type":"quantitative","axis":{"orient":"bottom","offset":183,"values":[1000,1500,2000,2500,3000,3500,4000],"labels":false,"tickSize":-9,"title":null}},
  "y":{"field":"r","type":"quantitative","axis":null}}}
]}
]
}
